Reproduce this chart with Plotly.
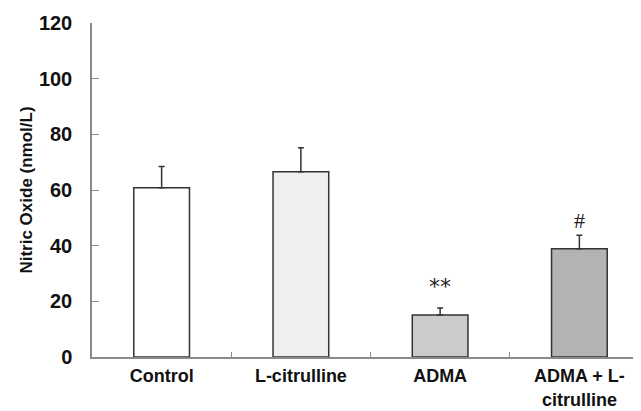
import plotly.graph_objects as go

categories = ["Control", "L-citrulline", "ADMA", "ADMA + L-<br>citrulline"]
means = [60.8, 66.6, 15.1, 38.9]
errors = [7.6, 8.6, 2.5, 4.8]
colors = ["#ffffff", "#efefef", "#cbcbcb", "#b3b3b3"]
sig_marks = ["", "", "**", "#"]
sig_y = [None, None, 25.5, 49.0]
y_ticks = [0, 20, 40, 60, 80, 100, 120]

fig = go.Figure()
fig.add_trace(go.Bar(
    x=categories, y=means, width=0.40,
    marker=dict(color=colors, line=dict(color="#333333", width=1.5)),
    error_y=dict(type="data", array=errors, arrayminus=[0] * len(errors),
                 symmetric=False, color="#333333", thickness=1.5, width=3),
))

for c, m, yy in zip(categories, sig_marks, sig_y):
    if m:
        fig.add_annotation(
            x=c, y=yy, text=m, showarrow=False,
            font=dict(family="DejaVu Sans" if m == "**" else "Liberation Serif",
                      size=22, color="#222222"),
        )

fig.update_layout(
    width=641, height=411,
    margin=dict(l=84, r=0, t=15, b=62),
    paper_bgcolor="white", plot_bgcolor="white",
    showlegend=False,
    font=dict(family="Liberation Sans", color="#111111"),
)
fig.update_xaxes(
    range=[-0.5, 3.5], automargin=False,
    showline=True, linecolor="#8a8a8a", linewidth=1.5,
    ticks="inside", tickson="boundaries", ticklen=5, tickcolor="#8a8a8a",
    tickfont=dict(family="Liberation Sans", size=18, color="#111111", weight="bold"),
    ticklabelstandoff=2,
)
fig.update_yaxes(
    range=[0, 120], tickvals=y_ticks, automargin=False,
    showline=True, linecolor="#8a8a8a", linewidth=1.5,
    ticks="inside", ticklen=7, tickcolor="#8a8a8a",
    showgrid=False, zeroline=False,
    tickfont=dict(family="Liberation Sans", size=20, color="#111111", weight="bold"),
    ticklabelstandoff=14,
    title=dict(text="Nitric Oxide (nmol/L)",
               font=dict(family="Liberation Sans", size=17, color="#111111", weight="bold"),
               standoff=2),
)

fig.write_html("out.html")
